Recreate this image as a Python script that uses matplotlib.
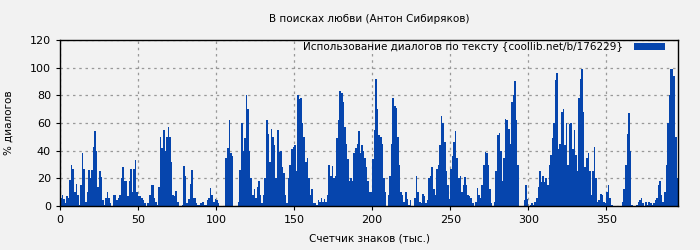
import matplotlib
matplotlib.use('Agg')
import matplotlib.pyplot as plt
import numpy as np

title = 'В поисках любви (Антон Сибиряков)'
series_name = 'Использование диалогов по тексту {coollib.net/b/176229}'
xlabel = 'Счетчик знаков (тыс.)'
ylabel = '% диалогов'

# dialog share per thousand chars
vals_0_99 = [6, 8, 5, 2, 7, 6, 19, 30, 27, 10,
             16, 8, 1, 15, 38, 27, 3, 10, 26, 20,
             26, 43, 54, 40, 14, 25, 21, 4, 1, 6,
             10, 6, 2, 0, 8, 8, 4, 6, 8, 20,
             28, 18, 18, 7, 18, 27, 10, 27, 33, 10,
             7, 7, 6, 4, 2, 0, 2, 8, 15, 15,
             6, 3, 1, 14, 50, 42, 55, 40, 50, 57,
             50, 32, 8, 7, 11, 3, 0, 0, 1, 29,
             22, 2, 5, 16, 26, 6, 6, 2, 1, 1,
             2, 3, 1, 1, 4, 6, 13, 8, 3, 5]
vals_100_199 = [4, 2, 0, 0, 0, 0, 35, 42, 62, 38,
                36, 0, 0, 0, 3, 26, 60, 40, 49, 80,
                70, 40, 20, 8, 12, 6, 14, 18, 8, 2,
                8, 20, 62, 52, 32, 56, 50, 44, 20, 55,
                39, 40, 28, 24, 8, 2, 20, 30, 41, 43,
                44, 25, 80, 77, 78, 60, 50, 32, 35, 20,
                8, 12, 2, 2, 1, 4, 3, 6, 3, 5,
                3, 8, 30, 22, 29, 20, 22, 49, 62, 83,
                82, 75, 57, 45, 34, 18, 20, 18, 38, 42,
                45, 54, 38, 44, 40, 35, 28, 18, 10, 10]
vals_200_299 = [34, 55, 92, 70, 51, 50, 45, 20, 10, 0,
                8, 22, 45, 78, 72, 71, 50, 30, 10, 8,
                3, 10, 5, 1, 4, 0, 0, 6, 22, 10,
                3, 2, 9, 7, 2, 4, 20, 22, 28, 12,
                8, 27, 30, 44, 65, 60, 46, 25, 15, 5,
                27, 36, 46, 54, 35, 20, 22, 10, 15, 21,
                15, 8, 7, 6, 2, 0, 3, 13, 8, 6,
                15, 30, 39, 38, 30, 12, 2, 0, 3, 25,
                51, 53, 40, 18, 35, 63, 62, 56, 45, 75,
                80, 90, 62, 30, 0, 0, 0, 4, 15, 5]
vals_300_395 = [0, 1, 2, 1, 3, 6, 14, 25, 17, 22,
                17, 20, 15, 30, 37, 49, 60, 91, 96, 41,
                45, 68, 70, 44, 60, 30, 59, 60, 41, 55,
                37, 25, 78, 92, 99, 68, 28, 35, 38, 25,
                8, 25, 43, 20, 3, 4, 9, 8, 3, 2,
                10, 15, 6, 1, 0, 0, 0, 0, 0, 0,
                3, 12, 30, 52, 67, 40, 1, 0, 0, 1,
                3, 4, 6, 2, 0, 3, 1, 3, 2, 1,
                2, 4, 6, 15, 18, 8, 3, 10, 30, 60,
                80, 99, 99, 94, 50, 20]

values = vals_0_99 + vals_100_199 + vals_200_299 + vals_300_395
x = np.arange(len(values))

bg = '#f2f2f2'
fig = plt.figure(figsize=(7, 2.5), dpi=100, facecolor=bg)
ax = fig.add_axes([0.0857, 0.176, 0.883, 0.664], facecolor=bg)

ax.bar(x, values, width=1.0, align='edge', color='#0645ad', linewidth=0,
       label=series_name, zorder=2)

ax.set_xlim(0, 396)
ax.set_ylim(0, 120)
ax.set_xticks(np.arange(0, 351, 50))
ax.set_yticks(np.arange(0, 121, 20))
ax.grid(True, color='#999999', linestyle=(0, (2, 3)), linewidth=0.9, zorder=0)
ax.tick_params(labelsize=8, length=3, width=0.8, colors='black')
for s in ax.spines.values():
    s.set_linewidth(1.0)

ax.set_title(title, fontsize=7.5, pad=13)
ax.set_xlabel(xlabel, fontsize=7.5, labelpad=6)
ax.set_ylabel(ylabel, fontsize=7.5, labelpad=12)

leg = ax.legend(loc='upper right', bbox_to_anchor=(0.989, 1.025), frameon=False,
                fontsize=7.5, markerfirst=False, handlelength=3.0,
                handleheight=0.6, borderaxespad=0.2, handletextpad=1.05)

fig.savefig('out.png', dpi=100, facecolor=bg)
